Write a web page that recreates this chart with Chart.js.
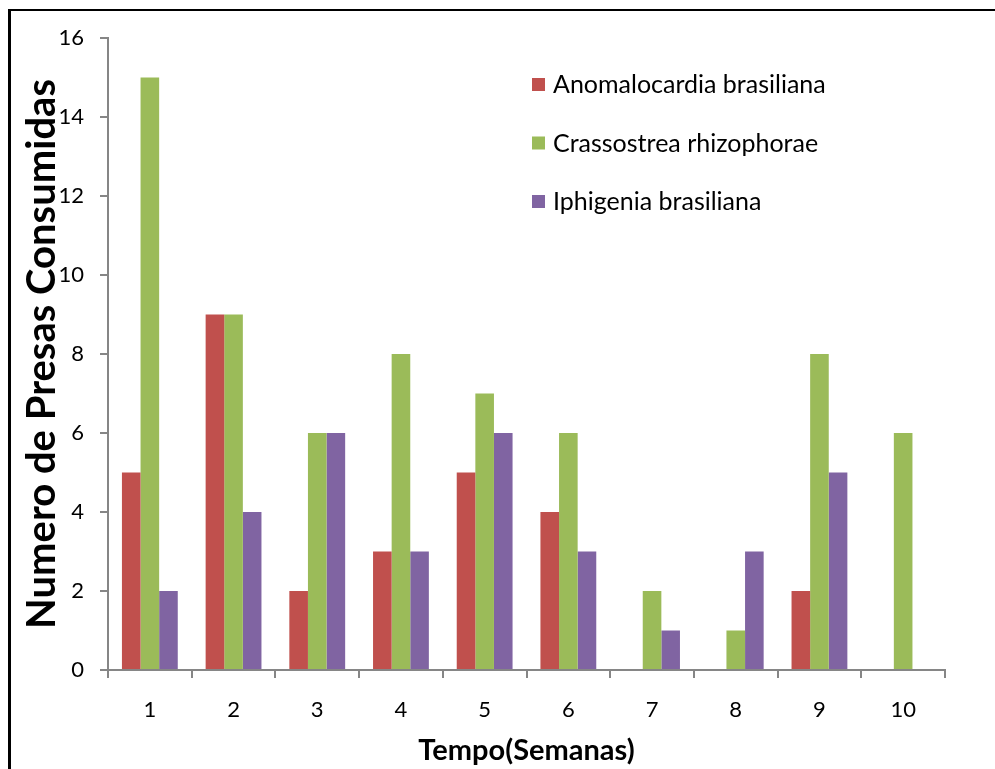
<!DOCTYPE html>
<html>
<head>
<meta charset="utf-8">
<script src="https://cdn.jsdelivr.net/npm/chart.js@4"></script>
<style>
  html, body { margin: 0; padding: 0; background: #fff; overflow: hidden; }
  #wrap { position: relative; width: 995px; height: 769px; }
  #frame {
    position: absolute; left: 8px; top: 9px; width: 1100px; height: 900px;
    border-left: 3px solid #000; border-top: 2px solid #000; pointer-events: none;
  }
</style>
</head>
<body>
<div id="wrap">
  <canvas id="chart" width="995" height="769"></canvas>
  <div id="frame"></div>
</div>
<script>
const semanas = ['1', '2', '3', '4', '5', '6', '7', '8', '9', '10'];
const anomalocardia = [5, 9, 2, 3, 5, 4, 0, 0, 2, 0];
const crassostrea = [15, 9, 6, 8, 7, 6, 2, 1, 8, 6];
const iphigenia = [2, 4, 6, 3, 6, 3, 1, 3, 5, 0];

const fontFamily = 'Lato, "Noto Sans", sans-serif';
const axisColor = '#868686';

// legend drawn inside the plot, like the Excel original
const insideLegend = {
  id: 'insideLegend',
  afterDraw(chart) {
    const ctx = chart.ctx;
    const area = chart.chartArea;
    const x0 = area.left + 424;
    let y = area.top + 47;
    ctx.save();
    ctx.font = '25px ' + fontFamily;
    ctx.textBaseline = 'middle';
    chart.data.datasets.forEach(ds => {
      ctx.fillStyle = ds.backgroundColor;
      ctx.fillRect(x0, y - 7, 13, 13);
      ctx.fillStyle = '#000';
      ctx.fillText(ds.label, x0 + 21, y);
      y += 58.5;
    });
    ctx.restore();
  }
};

new Chart(document.getElementById('chart').getContext('2d'), {
  type: 'bar',
  data: {
    labels: semanas,
    datasets: [
      { label: 'Anomalocardia brasiliana', data: anomalocardia, backgroundColor: '#C0504D' },
      { label: 'Crassostrea rhizophorae', data: crassostrea, backgroundColor: '#9BBB59' },
      { label: 'Iphigenia brasiliana', data: iphigenia, backgroundColor: '#8064A2' }
    ]
  },
  options: {
    responsive: false,
    animation: false,
    layout: { padding: { left: 0, right: 50, top: 38, bottom: 0 } },
    datasets: {
      bar: { barPercentage: 1.0, categoryPercentage: 0.667, borderWidth: 0 }
    },
    scales: {
      x: {
        afterFit: (scale) => { scale.height = 99; },
        grid: {
          offset: true,
          drawOnChartArea: false,
          tickLength: 8,
          color: axisColor,
          lineWidth: 2
        },
        border: { color: axisColor, width: 2 },
        ticks: { color: '#000', padding: 19, font: { family: fontFamily, size: 22 } },
        title: {
          display: true,
          text: 'Tempo(Semanas)',
          color: '#000',
          padding: { top: 0, bottom: 1 },
          font: { family: fontFamily, size: 29, weight: 'bold' }
        }
      },
      y: {
        min: 0,
        max: 16,
        afterFit: (scale) => { scale.width = 108; },
        grid: {
          drawOnChartArea: false,
          tickLength: 8,
          color: axisColor,
          lineWidth: 2
        },
        border: { color: axisColor, width: 2 },
        ticks: { stepSize: 2, color: '#000', padding: 16, font: { family: fontFamily, size: 22 } },
        title: {
          display: true,
          text: 'Numero de Presas Consumidas',
          color: '#000',
          padding: { top: 18, bottom: 0 },
          font: { family: fontFamily, size: 40, weight: 'bold' }
        }
      }
    },
    plugins: {
      legend: { display: false },
      tooltip: { enabled: false }
    }
  },
  plugins: [insideLegend]
});
</script>
</body>
</html>
